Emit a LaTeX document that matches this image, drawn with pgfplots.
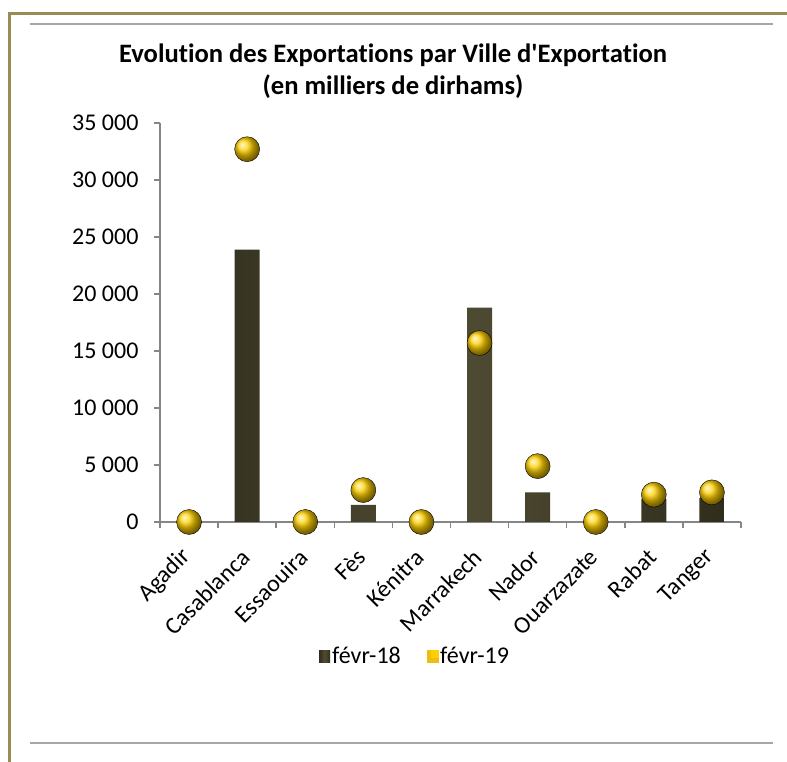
\documentclass[border=0pt]{standalone}
\usepackage{pgfplots}
\pgfplotsset{compat=1.18}
\usepackage{fontspec}
\setmainfont{Carlito}[Ligatures={NoCommon}]
\definecolor{olivebd}{RGB}{152,140,82}
\definecolor{grayln}{RGB}{166,166,166}
\definecolor{axgray}{RGB}{134,134,134}
\definecolor{barD}{RGB}{48,45,28}
\definecolor{barL}{RGB}{80,76,52}
\definecolor{gold}{RGB}{255,208,0}
\begin{document}
\begin{tikzpicture}
\path[use as bounding box] (0,0) rectangle (787bp,762bp);
% frame
\draw[olivebd, line width=3bp] (9.5bp,0) -- (9.5bp,748.5bp) -- (787bp,748.5bp);
\draw[grayln, line width=2bp] (30bp,737.5bp) -- (773bp,737.5bp);
\draw[grayln, line width=2bp] (30bp,19bp) -- (773bp,19bp);
\node[align=center, font=\fontsize{26.6bp}{32bp}\selectfont\bfseries] at (393bp,691bp)
  {Evolution des Exportations par Ville d\textquotesingle Exportation\\(en milliers de dirhams)};
\begin{axis}[
  at={(160bp,240bp)}, anchor=south west,
  scale only axis, width=581bp, height=399bp,
  xmin=-0.5, xmax=9.5, ymin=0, ymax=35000,
  clip=false,
  axis x line*=bottom, axis y line*=left,
  axis line style={axgray, line width=1.5bp, -},
  tick align=outside,
  major tick length=6bp,
  tick style={axgray, line width=1.5bp},
  xtick={-0.5,0.5,...,9.5}, xticklabels={},
  extra x ticks={0,1,2,3,4,5,6,7,8,9},
  extra x tick labels={Agadir,Casablanca,Essaouira,Fès,Kénitra,Marrakech,Nador,Ouarzazate,Rabat,Tanger},
  extra x tick style={major tick length=0bp, tick style={draw=none},
    xticklabel style={rotate=45, anchor=east, xshift=-20bp, yshift=-21bp}},
  ytick={0,5000,...,35000},
  scaled y ticks=false,
  /pgf/number format/assume math mode=true,
  /pgf/number format/.cd, fixed, 1000 sep={\ }, /pgfplots/.cd,
  yticklabel style={xshift=-12bp},
  ticklabel style={font=\fontsize{24bp}{28bp}\selectfont, text=black},
  legend style={at={(0.439,-0.336)}, anchor=center, draw=none, fill=none,
    legend columns=2, font=\fontsize{24bp}{28bp}\selectfont,
    /tikz/every even column/.append style={column sep=24bp},
    inner sep=0pt},
]
\addplot[ybar, bar width=25bp, draw=none, left color=barD, right color=barD, middle color=barL,
  legend image code/.code={\fill[barD] (0bp,-6bp) rectangle (11bp,6bp);}]
  coordinates {(0,0) (1,23900) (2,0) (3,1500) (4,0) (5,18800) (6,2600) (7,0) (8,2000) (9,2100)};
\addlegendentry{févr-18}
\addplot[only marks, mark=ball, mark size=12.5bp, mark options={ball color=gold},
  legend image code/.code={\fill[gold!75!brown] (0bp,-6bp) rectangle (11bp,6bp); \fill[gold] (4bp,-1bp) rectangle (11bp,6bp);}]
  coordinates {(0,0) (1,32700) (2,0) (3,2800) (4,0) (5,15700) (6,4900) (7,0) (8,2400) (9,2600)};
\addlegendentry{févr-19}
\end{axis}
\end{tikzpicture}
\end{document}
